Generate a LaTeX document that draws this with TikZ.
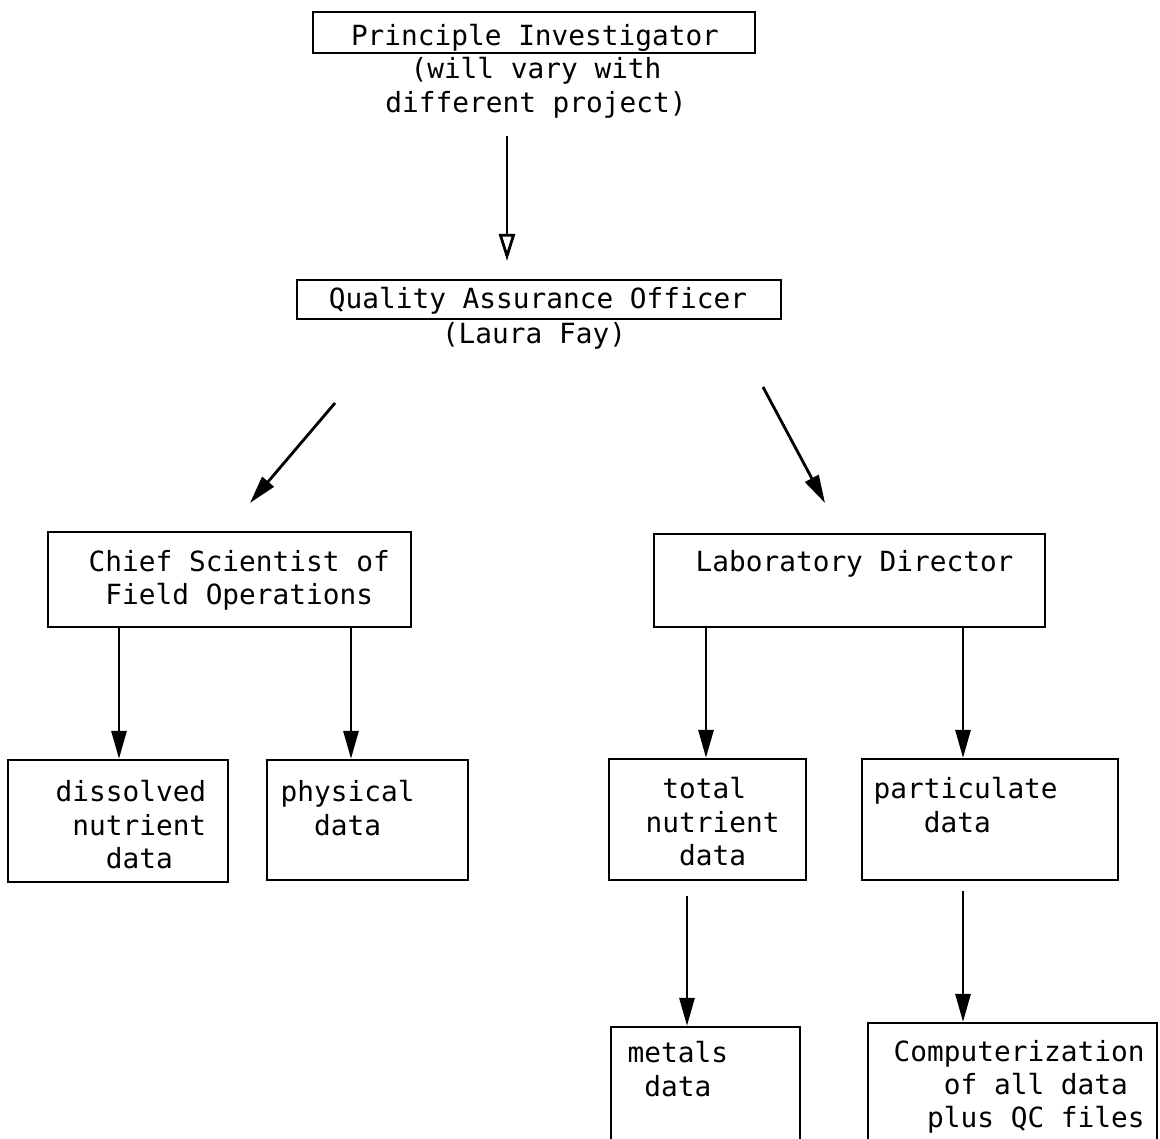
\documentclass[tikz,border=0pt]{standalone}
\usepackage{fontspec}
\setmonofont{DejaVu Sans Mono}
\usetikzlibrary{arrows.meta}

\begin{document}
\begin{tikzpicture}[x=0.01cm,y=-0.01cm,
    box/.style={draw,line width=0.6pt,inner sep=0pt},
    txt/.style={font=\fontsize{7.9}{9.4}\selectfont\ttfamily,inner sep=0pt,align=left,anchor=north west},
    arr/.style={line width=0.8pt,-{Triangle[length=2.8mm,width=1.5mm]}},
    arropen/.style={line width=0.8pt,-{Triangle[open,length=2.7mm,width=1.6mm]}}]
    \useasboundingbox (0,0) rectangle (1160,1139);
    \clip (0,0) rectangle (1160,1139);

    % investigator and QA officer
    \node[box,minimum width=4.42cm,minimum height=0.41cm] (pi) at (534,32.5) {};
    \node[txt,anchor=center] (pititle) at (535,38) {Principle Investigator};
    \node[txt,align=center,anchor=north] (pinote) at (536,57) {(will vary with\\different project)};

    \node[box,minimum width=4.84cm,minimum height=0.39cm] (qa) at (539,299.5) {};
    \node[txt,anchor=center] (qatitle) at (538,301) {Quality Assurance Officer};
    \node[txt,anchor=north] (laura) at (534,322) {(Laura Fay)};

    % second level
    \node[box,minimum width=3.63cm,minimum height=0.95cm] (chief) at (229.5,579.5) {};
    \node[txt] (chieftext) at (88,550) {Chief Scientist of\\\hphantom{x}Field Operations};

    \node[box,minimum width=3.91cm,minimum height=0.93cm] (lab) at (849.5,580.5) {};
    \node[txt] (labtext) at (695,550) {Laboratory Director};

    % data boxes
    \node[box,minimum width=2.20cm,minimum height=1.22cm] (dis) at (118,821) {};
    \node[txt] (distext) at (55,780) {dissolved\\\hphantom{x}nutrient\\\hphantom{xxx}data};

    \node[box,minimum width=2.01cm,minimum height=1.20cm] (phy) at (367.5,820) {};
    \node[txt] (phytext) at (280,780) {physical\\\hphantom{xx}data};

    \node[box,minimum width=1.97cm,minimum height=1.21cm] (tot) at (707.5,819.5) {};
    \node[txt] (tottext) at (645,777) {\hphantom{x}total\\nutrient\\\hphantom{xx}data};

    \node[box,minimum width=2.56cm,minimum height=1.21cm] (par) at (990,819.5) {};
    \node[txt] (partext) at (873,777) {particulate\\\hphantom{xxx}data};

    \node[box,minimum width=1.89cm,minimum height=1.33cm] (met) at (705.5,1093.5) {};
    \node[txt] (mettext) at (627,1041) {metals\\\hphantom{x}data};

    \node[box,minimum width=2.89cm,minimum height=1.37cm] (com) at (1012.5,1091.5) {};
    \node[txt] (comtext) at (893,1040) {Computerization\\\hphantom{xxx}of all data\\\hphantom{xx}plus QC files};

    % arrow lines
    \coordinate (xpi) at (507,0);
    \coordinate (qaleft) at (335,403);
    \coordinate (chiefin) at (250,503);
    \coordinate (qaright) at (763,387);
    \coordinate (labin) at (825,503);
    \coordinate (xdis) at (119,0);
    \coordinate (xphy) at (351,0);
    \coordinate (xtot) at (706,0);
    \coordinate (xpar) at (963,0);
    \coordinate (xmet) at (687,0);

    \draw[arropen,shorten <=0.17cm,shorten >=0.18cm] (pinote.south -| xpi) -- (qa.north -| xpi);
    \draw[arr] (qaleft) -- (chiefin);
    \draw[arr] (qaright) -- (labin);
    \draw[arr] (chief.south -| xdis) -- (dis.north -| xdis);
    \draw[arr] (chief.south -| xphy) -- (phy.north -| xphy);
    \draw[arr] (lab.south -| xtot) -- (tot.north -| xtot);
    \draw[arr] (lab.south -| xpar) -- (par.north -| xpar);
    \draw[arr,shorten <=0.15cm] (tot.south -| xmet) -- (met.north -| xmet);
    \draw[arr,shorten <=0.1cm] (par.south -| xpar) -- (com.north -| xpar);
\end{tikzpicture}
\end{document}
